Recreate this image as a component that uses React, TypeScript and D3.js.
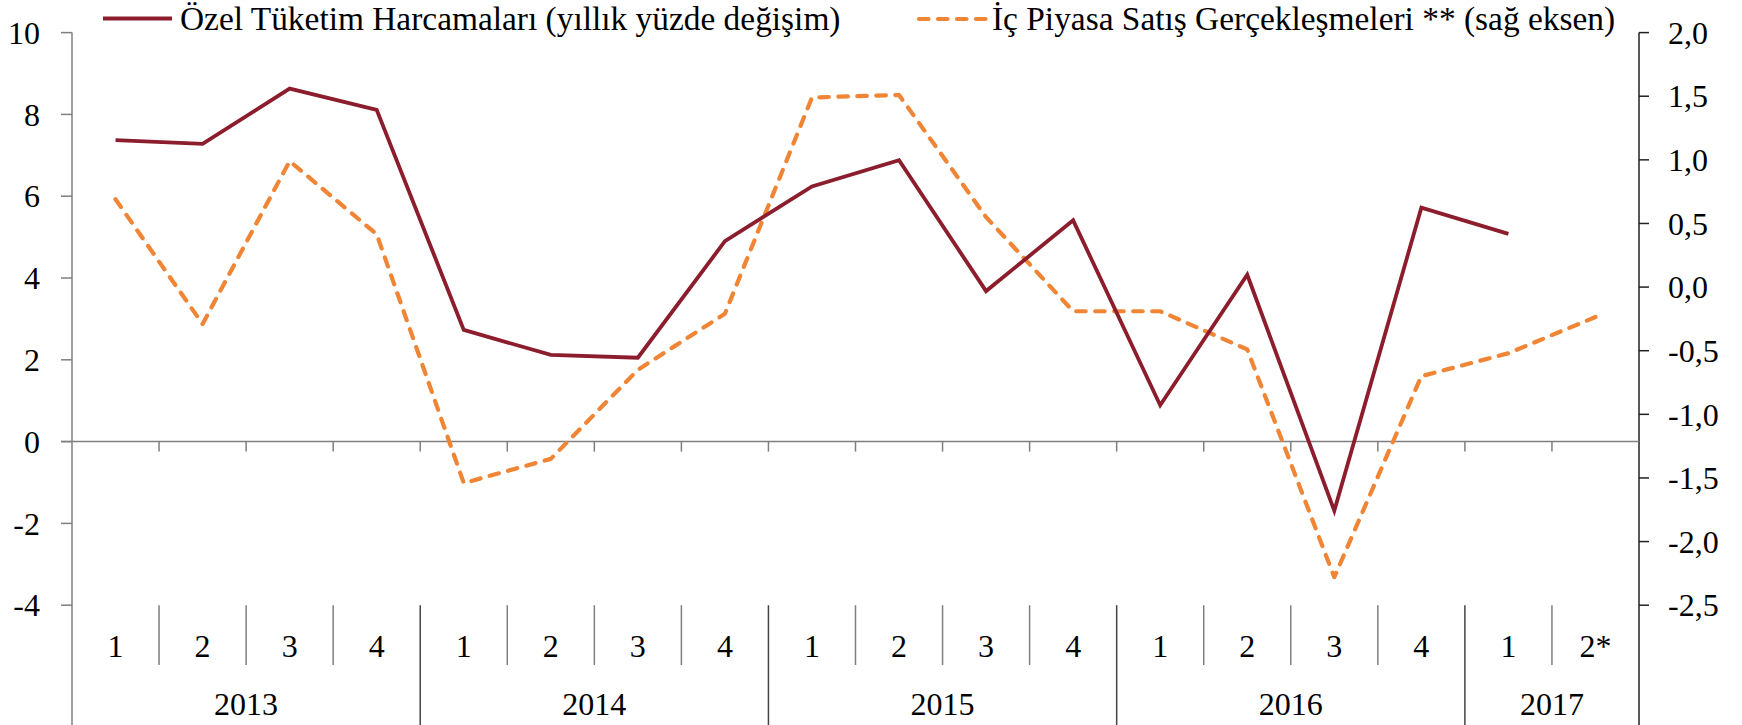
import React from "react";
import * as d3 from "d3";

const quarters = ["1", "2", "3", "4", "1", "2", "3", "4", "1", "2", "3", "4", "1", "2", "3", "4", "1", "2*"];
const years = ["2013", "2014", "2015", "2016", "2017"];
const yearSpans = [4, 4, 4, 4, 2];
const ozelTuketim: (number | null)[] = [7.37, 7.28, 8.63, 8.11, 2.73, 2.12, 2.05, 4.9, 6.24, 6.88, 3.68, 5.41, 0.89, 4.08, -1.69, 5.72, 5.08, null];
const icPiyasa: number[] = [0.69, -0.29, 0.99, 0.415, -1.54, -1.35, -0.65, -0.21, 1.49, 1.51, 0.55, -0.19, -0.19, -0.49, -2.28, -0.7, -0.52, -0.235];
const leftTicks = [-4, -2, 0, 2, 4, 6, 8, 10];
const rightTicks = [-2.5, -2, -1.5, -1, -0.5, 0, 0.5, 1, 1.5, 2];
const seriesNames = ["Özel Tüketim Harcamaları (yıllık yüzde değişim)", "İç Piyasa Satış Gerçekleşmeleri ** (sağ eksen)"];

const W = 1742, H = 725;
const X0 = 72, X1 = 1639, YT = 32.6, YB = 605.2;
const FONT = "'Liberation Serif', serif";
const FS = 32;
const LFS = 33.4;
const RED = "#8C1D2C";
const ORANGE = "#EF8535";
const GRAY = "#7f7f7f";

export default function App() {
  const idx = quarters.map((_, i) => i);
  const x = d3.scaleBand<number>().domain(idx).range([X0, X1]).padding(0);
  const bw = x.bandwidth();
  const yL = d3.scaleLinear().domain([-4, 10]).range([YB, YT]);
  const yR = d3.scaleLinear().domain([-2.5, 2]).range([YB, YT]);
  const cx = (i: number) => (x(i) as number) + bw / 2;

  const lineL = d3.line<number | null>()
    .defined((d) => d !== null)
    .x((_, i) => cx(i))
    .y((d) => yL(d as number));
  const lineR = d3.line<number>().x((_, i) => cx(i)).y((d) => yR(d));

  const y0 = yL(0);
  const fmt = (v: number) => d3.format(".1f")(v).replace(".", ",").replace("−", "-");

  let acc = 0;
  const yearStarts = yearSpans.map((s) => { const st = acc; acc += s; return st; });

  return (
    <svg width={W} height={H} style={{ position: "absolute", left: 0, top: 0, background: "#fff" }} fontFamily={FONT}>
      <rect width={W} height={H} fill="#fff" />
      {/* axes */}
      <line x1={X0} x2={X0} y1={YT} y2={H} stroke={GRAY} strokeWidth={1.5} />
      <line x1={X1} x2={X1} y1={YT} y2={H} stroke="#222" strokeWidth={1.5} />
      {leftTicks.map((t) => (
        <g key={"l" + t}>
          <line x1={X0 - 11} x2={X0} y1={yL(t)} y2={yL(t)} stroke={GRAY} strokeWidth={1.5} />
          <text x={40} y={yL(t)} dy="0.35em" textAnchor="end" fontSize={FS} fill="#000">{t < 0 ? "-" + Math.abs(t) : t}</text>
        </g>
      ))}
      {rightTicks.map((t) => (
        <g key={"r" + t}>
          <line x1={X1} x2={X1 + 10} y1={yR(t)} y2={yR(t)} stroke="#222" strokeWidth={1.5} />
          <text x={1668} y={yR(t)} dy="0.35em" textAnchor="start" fontSize={FS} fill="#000">{fmt(t)}</text>
        </g>
      ))}
      {/* zero line */}
      <line x1={X0 - 11} x2={X1} y1={y0} y2={y0} stroke={GRAY} strokeWidth={1.5} />
      {idx.slice(1).map((i) => (
        <line key={"zt" + i} x1={x(i)} x2={x(i)} y1={y0} y2={y0 + 10} stroke={GRAY} strokeWidth={1.5} />
      ))}
      {/* category separators */}
      {idx.slice(1).map((i) => {
        const isYear = yearStarts.includes(i);
        return (
          <line key={"sep" + i} x1={x(i)} x2={x(i)} y1={YB} y2={isYear ? H : 665} stroke={isYear ? "#444" : GRAY} strokeWidth={1.5} />
        );
      })}
      {quarters.map((q, i) => (
        <text key={"q" + i} x={cx(i)} y={656.5} textAnchor="middle" fontSize={FS} fill="#000">{q}</text>
      ))}
      {years.map((yr, k) => {
        const s = yearStarts[k];
        const mid = ((x(s) as number) + (x(s + yearSpans[k] - 1) as number) + bw) / 2;
        return <text key={yr} x={mid} y={715} textAnchor="middle" fontSize={FS} fill="#000">{yr}</text>;
      })}
      {/* series */}
      <path d={lineR(icPiyasa) || ""} fill="none" stroke={ORANGE} strokeWidth={4.2} strokeDasharray="9.5 9.5" strokeLinecap="round" strokeLinejoin="round" />
      <path d={lineL(ozelTuketim) || ""} fill="none" stroke={RED} strokeWidth={3.8} strokeLinejoin="miter" />
      {/* legend */}
      <line x1={103} x2={172} y1={18.5} y2={18.5} stroke={RED} strokeWidth={3.8} />
      <text x={180} y={30} fontSize={LFS} fill="#000">{seriesNames[0]}</text>
      <line x1={919} x2={986} y1={19} y2={19} stroke={ORANGE} strokeWidth={4.2} strokeDasharray="9.5 9.5" strokeLinecap="round" />
      <text x={992} y={30} fontSize={LFS} fill="#000">{seriesNames[1]}</text>
    </svg>
  );
}
